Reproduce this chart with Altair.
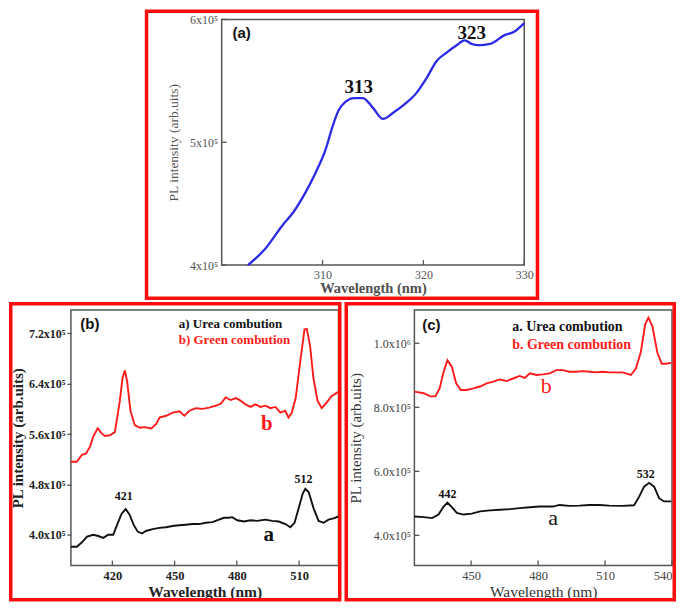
import altair as alt
import pandas as pd

# ---------------- data (intensities in units of 1e5) ----------------
# Panel (a) excitation spectrum
A_WL = [302.6, 304.3, 306.0, 307.1, 308.3, 309.3, 310.3, 311.0, 311.6, 312.3, 313.1, 314.0,
        315.0, 316.0, 317.0, 318.3, 319.3, 320.3, 321.3, 322.3, 323.3, 324.1, 324.8, 325.5,
        326.6, 328.0, 329.0, 330.0]
A_E5 = [4.00, 4.13, 4.32, 4.43, 4.59, 4.75, 4.94, 5.13, 5.26, 5.33, 5.36, 5.36,
        5.28, 5.19, 5.24, 5.32, 5.40, 5.52, 5.66, 5.73, 5.79, 5.83, 5.80, 5.79,
        5.80, 5.87, 5.90, 5.97]
A_XTICKS = [310, 320, 330]
A_YTICKS = [4e5, 5e5, 6e5]
A_PEAKS = ["313", "323"]
A_PEAK_WL = [313.6, 324.8]
A_PEAK_E5 = [5.45, 5.89]

# Panel (b)
B_RED_WL = [400.0, 402.9, 405.3, 407.3, 409.2, 410.8, 412.9, 414.8, 416.4, 418.8, 421.2, 423.6,
            424.9, 426.0, 427.1, 428.7, 430.8, 433.2, 435.5, 438.8, 441.1, 442.7, 445.9, 449.1,
            452.3, 454.7, 457.1, 460.3, 463.4, 466.7, 469.9, 472.2, 474.6, 477.0, 479.4, 481.8,
            484.2, 486.6, 489.0, 491.4, 493.8, 496.2, 498.6, 501.0, 503.3, 504.9, 506.5, 508.4,
            510.5, 512.6, 513.7, 515.3, 516.9, 518.9, 520.9, 523.3, 525.6, 528.9]
B_RED_E5 = [5.16, 5.16, 5.27, 5.29, 5.40, 5.56, 5.69, 5.61, 5.57, 5.58, 5.63, 6.13,
            6.49, 6.61, 6.44, 5.97, 5.74, 5.70, 5.71, 5.69, 5.76, 5.86, 5.89, 5.94,
            5.96, 5.89, 5.97, 6.01, 6.00, 6.02, 6.05, 6.08, 6.18, 6.14, 6.17, 6.13,
            6.07, 6.03, 6.07, 6.03, 6.05, 6.01, 6.03, 5.94, 5.97, 5.86, 5.94, 6.18,
            6.74, 7.26, 7.27, 7.00, 6.49, 6.13, 6.01, 6.10, 6.20, 6.27]
B_BLK_WL = [400.0, 402.9, 405.3, 407.8, 410.8, 413.2, 415.6, 418.0, 420.4, 422.3, 424.4, 426.4,
            428.3, 430.2, 432.2, 434.3, 436.2, 439.4, 442.6, 445.8, 449.0, 452.2, 455.4, 458.6,
            461.8, 465.0, 468.2, 471.4, 473.8, 476.2, 477.8, 480.2, 483.4, 486.6, 489.8, 493.8,
            497.0, 500.2, 503.4, 505.8, 507.8, 509.8, 511.7, 513.0, 514.6, 517.0, 519.4, 521.8,
            524.2, 526.6, 529.0]
B_BLK_E5 = [3.81, 3.81, 3.88, 3.97, 4.00, 3.98, 3.95, 4.00, 4.00, 4.16, 4.33, 4.41,
            4.32, 4.16, 4.05, 4.02, 4.06, 4.09, 4.11, 4.12, 4.14, 4.15, 4.16, 4.17,
            4.17, 4.19, 4.20, 4.24, 4.27, 4.27, 4.28, 4.23, 4.21, 4.23, 4.22, 4.24,
            4.22, 4.21, 4.17, 4.12, 4.19, 4.42, 4.65, 4.73, 4.68, 4.42, 4.22, 4.19,
            4.24, 4.26, 4.29]
B_XTICKS = [420, 450, 480, 510]
B_YTICKS = [4.0e5, 4.8e5, 5.6e5, 6.4e5, 7.2e5]
B_LABELS = ["421", "512"]
B_LABEL_WL = [425.5, 512.1]
B_LABEL_E5 = [4.62, 4.89]
B_CURVE_TAGS = ["a", "b"]
B_TAG_WL = [495.4, 494.4]
B_TAG_E5 = [4.00, 5.76]

# Panel (c)
C_RED_WL = [424.6, 428.8, 431.7, 434.0, 435.9, 437.7, 439.4, 441.4, 443.3, 445.4, 448.1, 451.0,
            454.0, 457.0, 459.9, 462.9, 465.9, 468.8, 471.8, 474.1, 476.3, 479.3, 482.2, 485.2,
            488.2, 491.1, 494.1, 497.1, 500.0, 503.0, 506.0, 508.9, 511.9, 514.9, 517.8, 521.6,
            523.8, 526.0, 528.0, 529.4, 531.2, 533.4, 535.4, 537.2, 539.7]
C_RED_E5 = [8.49, 8.44, 8.34, 8.34, 8.59, 9.11, 9.47, 9.26, 8.75, 8.54, 8.54, 8.59,
            8.65, 8.75, 8.80, 8.87, 8.82, 8.90, 8.98, 8.92, 9.06, 9.01, 9.03, 9.06,
            9.16, 9.16, 9.11, 9.11, 9.13, 9.11, 9.09, 9.11, 9.09, 9.09, 9.09, 9.01,
            9.21, 9.72, 10.59, 10.80, 10.54, 9.72, 9.36, 9.36, 9.39]
C_BLK_WL = [424.6, 428.8, 432.5, 435.4, 437.7, 439.4, 441.4, 443.6, 446.6, 450.3, 454.0, 458.5,
            462.9, 467.4, 471.8, 476.3, 480.7, 486.7, 489.6, 494.1, 498.6, 503.0, 507.5, 511.9,
            517.8, 523.0, 525.3, 527.5, 529.7, 532.0, 534.2, 536.4, 539.7]
C_BLK_E5 = [4.59, 4.57, 4.54, 4.65, 4.90, 5.02, 4.88, 4.70, 4.65, 4.68, 4.75, 4.78,
            4.80, 4.82, 4.85, 4.88, 4.90, 4.90, 4.95, 4.92, 4.93, 4.95, 4.95, 4.93,
            4.92, 4.94, 5.21, 5.52, 5.64, 5.52, 5.16, 5.06, 5.06]
C_XTICKS = [450, 480, 510, 540]
C_YTICKS = [4e5, 6e5, 8e5, 1e6]
C_LABELS = ["442", "532"]
C_LABEL_WL = [439.4, 528.2]
C_LABEL_E5 = [5.29, 5.91]
C_CURVE_TAGS = ["a", "b"]
C_TAG_WL = [486.7, 483.7]
C_TAG_E5 = [4.54, 8.65]

LEG_B = ["a) Urea combution", "b) Green combution"]
LEG_C = ["a. Urea combution", "b. Green combution"]

# ---------------- styling ----------------
SERIF = "Liberation Serif"
SANS = "Liberation Sans"
RED = "#ff1a1a"
FRAME_RED = "#ff0d0d"
GRAY = "#555555"
FW = 3.5


def one(**kw):
    return pd.DataFrame({k: [v] for k, v in kw.items()})


def frame_layer(W, H, left, right, top, bottom):
    h = FW / 2
    return alt.Chart(one(k=0)).mark_rect(
        fill="transparent", stroke=FRAME_RED, strokeWidth=FW, clip=False
    ).encode(x=alt.value(-left + h), x2=alt.value(W + right - h),
             y=alt.value(-top + h), y2=alt.value(H + bottom - h))


def series(wl, e5, color, xs, ys, xa, ya, width=1.8, interp="linear"):
    df = pd.DataFrame({"wl": wl, "I": [v * 1e5 for v in e5]})
    return alt.Chart(df).mark_line(color=color, strokeWidth=width, interpolate=interp).encode(
        x=alt.X("wl:Q", scale=xs, axis=xa), y=alt.Y("I:Q", scale=ys, axis=ya))


def texts(wl, e5, labels, xs, ys, xa, ya, **mk):
    df = pd.DataFrame({"wl": wl, "I": [v * 1e5 for v in e5], "t": labels})
    return alt.Chart(df).mark_text(align="center", baseline="middle", **mk).encode(
        x=alt.X("wl:Q", scale=xs, axis=xa), y=alt.Y("I:Q", scale=ys, axis=ya), text="t:N")


def px_text(t, x, y, **mk):
    return alt.Chart(one(t=t)).mark_text(baseline="middle", **mk).encode(
        x=alt.value(x), y=alt.value(y), text="t:N")


def xticks_in(vals, xs, xa, H, n=5):
    return alt.Chart(pd.DataFrame({"wl": vals})).mark_rule(color=GRAY, strokeWidth=1.3).encode(
        x=alt.X("wl:Q", scale=xs, axis=xa), y=alt.value(H), y2=alt.value(H - n))


def yticks_in(vals, ys, ya, n=5):
    return alt.Chart(pd.DataFrame({"I": vals})).mark_rule(color=GRAY, strokeWidth=1.3).encode(
        y=alt.Y("I:Q", scale=ys, axis=ya), x=alt.value(0), x2=alt.value(n))


# ---------------- panel (a) ----------------
WA, HA = 303, 246
A_SHIFT = 72         # empty spacer width left of panel (a)
xs_a = alt.Scale(domain=[300, 330], nice=False, zero=False)
ys_a = alt.Scale(domain=[4e5, 6e5], nice=False, zero=False)
xa_a = alt.Axis(values=A_XTICKS, format="d", title="Wavelength (nm)", grid=False, ticks=False,
                domain=False, labelFont=SERIF, labelFontSize=12, labelColor=GRAY, labelPadding=4,
                titleFont=SERIF, titleFontSize=14.5, titleFontWeight="bold", titleColor="#505050",
                titlePadding=1, labelFlush=False)
ya_a = alt.Axis(values=A_YTICKS, labelExpr="format(datum.value/1e5,'d')+'x10⁵'",
                title="PL intensity (arb.uits)", grid=False, ticks=False, domain=False,
                labelFont=SERIF, labelFontSize=12, labelColor=GRAY, labelPadding=4,
                titleFont=SERIF, titleFontSize=13.5, titleFontWeight="normal", titleColor=GRAY,
                titlePadding=9)
panel_a = alt.layer(
    frame_layer(WA, HA, 77, 15, 10, 35),
    series(A_WL, A_E5, "#2b2be6", xs_a, ys_a, xa_a, ya_a, width=2.3, interp="monotone"),
    xticks_in(A_XTICKS, xs_a, xa_a, HA),
    yticks_in(A_YTICKS, ys_a, ya_a),
    texts(A_PEAK_WL, A_PEAK_E5, A_PEAKS, xs_a, ys_a, xa_a, ya_a,
          font=SERIF, fontSize=19, fontWeight="bold", color="#111111"),
    px_text("(a)", 20, 14, font=SANS, fontSize=15, fontWeight="bold", color="#111111", align="center"),
).properties(width=WA, height=HA)

spacer = alt.Chart(one(k=0)).mark_point(opacity=0).encode(
    x=alt.value(0), y=alt.value(0)
).properties(width=A_SHIFT, height=10, view=alt.ViewBackground(stroke="transparent"))

# ---------------- panel (b) ----------------
WB, HB = 268, 256
xs_b = alt.Scale(domain=[400, 529], nice=False, zero=False)
ys_b = alt.Scale(domain=[3.51e5, 7.57e5], nice=False, zero=False)
xa_b = alt.Axis(values=B_XTICKS, format="d", title="Wavelength (nm)", grid=False, ticks=False,
                domain=False, labelFont=SERIF, labelFontSize=12.5, labelFontWeight="bold",
                labelColor="#222222", labelPadding=4, titleFont=SERIF, titleFontSize=15.5,
                titleFontWeight="bold", titleColor="#222222", titlePadding=2)
ya_b = alt.Axis(values=B_YTICKS, labelExpr="format(datum.value/1e5,'.1f')+'x10⁵'",
                title="PL intensity (arb.uits)", grid=False, ticks=True, tickSize=4,
                tickColor=GRAY, tickWidth=1.3, domain=False, labelFont=SERIF, labelFontSize=12,
                labelFontWeight="bold", labelColor="#222222", labelPadding=2,
                titleFont=SERIF, titleFontSize=15, titleFontWeight="bold", titleColor="#222222",
                titlePadding=3)
panel_b = alt.layer(
    frame_layer(WB, HB, 62, 3, 8, 36),
    series(B_RED_WL, B_RED_E5, RED, xs_b, ys_b, xa_b, ya_b, width=1.9),
    series(B_BLK_WL, B_BLK_E5, "#111111", xs_b, ys_b, xa_b, ya_b, width=1.9),
    xticks_in(B_XTICKS, xs_b, xa_b, HB),
    texts(B_LABEL_WL, B_LABEL_E5, B_LABELS, xs_b, ys_b, xa_b, ya_b,
          font=SERIF, fontSize=12, fontWeight="bold", color="#111111"),
    texts(B_TAG_WL[:1], B_TAG_E5[:1], B_CURVE_TAGS[:1], xs_b, ys_b, xa_b, ya_b,
          font=SERIF, fontSize=21, fontWeight="bold", color="#111111"),
    texts(B_TAG_WL[1:], B_TAG_E5[1:], B_CURVE_TAGS[1:], xs_b, ys_b, xa_b, ya_b,
          font=SERIF, fontSize=21, fontWeight="bold", color=RED),
    px_text("(b)", 19, 14, font=SANS, fontSize=15, fontWeight="bold", color="#111111", align="center"),
    px_text(LEG_B[0], 108, 14, font=SERIF, fontSize=13, fontWeight="bold", color="#111111", align="left"),
    px_text(LEG_B[1], 108, 30, font=SERIF, fontSize=13, fontWeight="bold", color=RED, align="left"),
).properties(width=WB, height=HB)

# ---------------- panel (c) ----------------
WC, HC = 258, 256
xs_c = alt.Scale(domain=[424.6, 540], nice=False, zero=False)
ys_c = alt.Scale(domain=[3.055e5, 11.04e5], nice=False, zero=False)
xa_c = alt.Axis(values=C_XTICKS, format="d", title="Wavelength (nm)", grid=False, ticks=False,
                domain=False, labelFont=SERIF, labelFontSize=12.5, labelColor="#444444",
                labelPadding=4, labelFlush=3, titleFont=SERIF, titleFontSize=15.5,
                titleFontWeight="normal", titleColor="#333333", titlePadding=2)
ya_c = alt.Axis(values=C_YTICKS,
                labelExpr="datum.value >= 1e6 ? format(datum.value/1e6,'.1f')+'x10⁶' : format(datum.value/1e5,'.1f')+'x10⁵'",
                title="PL intensity (arb.uits)", grid=False, ticks=False, domain=False,
                labelFont=SERIF, labelFontSize=12, labelColor="#444444", labelPadding=4,
                titleFont=SERIF, titleFontSize=15, titleFontWeight="normal", titleColor="#333333",
                titlePadding=10)
panel_c = alt.layer(
    frame_layer(WC, HC, 70, 4, 8, 36),
    series(C_RED_WL, C_RED_E5, RED, xs_c, ys_c, xa_c, ya_c, width=1.9),
    series(C_BLK_WL, C_BLK_E5, "#111111", xs_c, ys_c, xa_c, ya_c, width=1.9),
    xticks_in(C_XTICKS, xs_c, xa_c, HC),
    yticks_in(C_YTICKS, ys_c, ya_c),
    texts(C_LABEL_WL, C_LABEL_E5, C_LABELS, xs_c, ys_c, xa_c, ya_c,
          font=SERIF, fontSize=12, fontWeight="bold", color="#111111"),
    texts(C_TAG_WL[:1], C_TAG_E5[:1], C_CURVE_TAGS[:1], xs_c, ys_c, xa_c, ya_c,
          font=SERIF, fontSize=22, color="#111111"),
    texts(C_TAG_WL[1:], C_TAG_E5[1:], C_CURVE_TAGS[1:], xs_c, ys_c, xa_c, ya_c,
          font=SERIF, fontSize=22, color=RED),
    px_text("(c)", 17, 15, font=SANS, fontSize=15, fontWeight="bold", color="#111111", align="center"),
    px_text(LEG_C[0], 98, 17, font=SERIF, fontSize=14, fontWeight="bold", color="#111111", align="left"),
    px_text(LEG_C[1], 98, 35, font=SERIF, fontSize=14, fontWeight="bold", color=RED, align="left"),
).properties(width=WC, height=HC)

chart = alt.vconcat(
    alt.hconcat(spacer, panel_a, spacing=0),
    alt.hconcat(panel_b, panel_c, spacing=0),
    spacing=0,
).properties(padding=0, background="white").configure_view(
    stroke=GRAY, strokeWidth=1.5
)

chart.save("out.html", embed_options={"renderer": "svg", "actions": False})
